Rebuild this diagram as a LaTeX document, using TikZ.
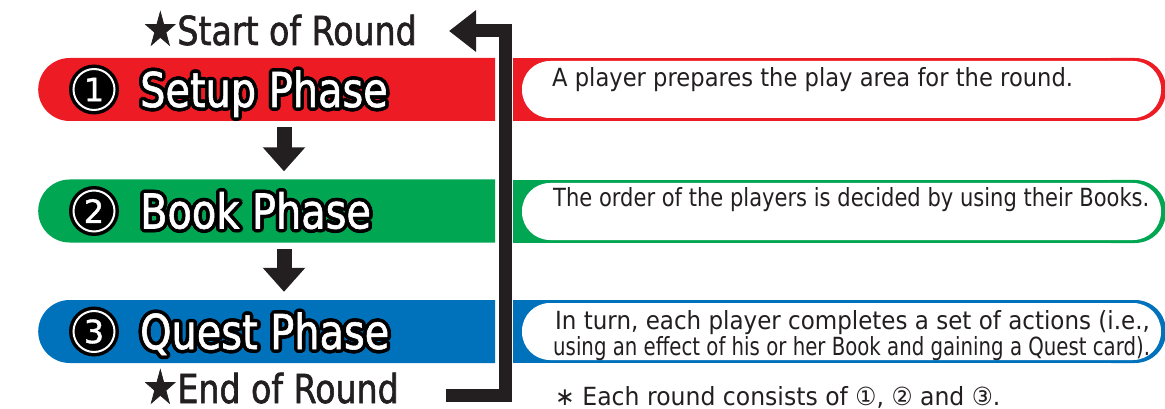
\documentclass[tikz,border=0pt]{standalone}
\usepackage{fontspec}
\setmainfont{DejaVu Sans}
\newfontfamily\descfont[FakeStretch=0.86]{DejaVu Sans}
\newfontfamily\labfont[FakeStretch=0.83,FakeBold=1.5]{DejaVu Sans}
\newfontfamily\titfont[FakeStretch=0.83,FakeBold=1.2]{DejaVu Sans}
\newfontfamily\numfont[FakeBold=1.2]{DejaVu Sans}
\usetikzlibrary{arrows.meta,shapes.misc}
\definecolor{pred}{HTML}{ED1C24}
\definecolor{pgreen}{HTML}{00A651}
\definecolor{pblue}{HTML}{0072BC}
\definecolor{ink}{HTML}{231F20}
\tikzset{
  phasebar/.style={rounded rectangle, rounded rectangle right arc=none, minimum width=457pt, minimum height=63pt, inner sep=0pt, anchor=west, fill=#1},
  titletext/.style={font=\titfont\fontsize{48}{48}\selectfont, inner sep=0pt, anchor=base west},
  numdisc/.style={circle, fill=black, minimum size=50pt, inner sep=0pt},
  desctext/.style={font=\descfont\fontsize{25}{28}\selectfont, inner sep=0pt, anchor=base west, text=ink},
  labtext/.style={font=\labfont\fontsize{40}{40}\selectfont, inner sep=0pt, anchor=base west, text=ink},
  flow/.style={line width=13pt, draw=ink},
  downarrow/.style={line width=15pt, draw=ink, -{Triangle[length=24pt,width=41pt]}, shorten <=6pt, shorten >=8pt},
}
\newcommand\outlinedtitle[3]{% name, position, text
  \foreach \a in {0,24,...,336}{\node[titletext,text=black,shift={(\a:3.6pt)}] (#1o\a) at (#2) {#3};}
  \node[titletext,text=white] (#1) at (#2) {#3};}
\newcommand\descbox[2]{% y-top, colour
  \fill[#2] (513,#1) rectangle (1130,#1+63);
  \fill[#2,rounded corners=31pt] (1080,#1) rectangle (1166,#1+63);
  \fill[white,rounded corners=28pt] (522,#1+3) rectangle (1161,#1+60);}
\begin{document}
\begin{tikzpicture}[x=1pt,y=-1pt]
\useasboundingbox (0,0) rectangle (1165,409);
% left bars
\node[phasebar=pred] (bar1) at (38,89.5) {};
\node[phasebar=pgreen] (bar2) at (38,211) {};
\node[phasebar=pblue] (bar3) at (38,331.5) {};
% right description boxes
\descbox{58}{pred}
\descbox{180}{pgreen}
\descbox{300}{pblue}
% number discs
\foreach \i/\y in {1/89.5,2/211,3/331.5}{
  \node[numdisc] (n\i) at (94,\y) {};
  \draw[white,line width=2pt] (n\i.center) circle[radius=20.5pt];
  \node[inner sep=0pt,text=white,font=\numfont\fontsize{32}{32}\selectfont] (m\i) at (n\i.center) {\i};
}
% titles
\outlinedtitle{t1}{140,107}{Setup Phase}
\outlinedtitle{t2}{140,228.5}{Book Phase}
\outlinedtitle{t3}{140,349}{Quest Phase}
% descriptions
\node[desctext] (d1) at (552,87) {\scalebox{1.053}[1]{A player prepares the play area for the round.}};
\node[desctext] (d2) at (553,207) {\scalebox{0.979}[1]{The order of the players is decided by using their Books.}};
\node[desctext] (d3a) at (555,329) {\scalebox{1.07}[1]{In turn, each player completes a set of actions (i.e.,}};
\node[desctext] (d3b) at (553,355) {\scalebox{0.918}[1]{using an effect of his or her Book and gaining a Quest card).}};
% start / end labels
\node[labtext] (start) at (143,45) {{\fontsize{46}{46}\selectfont ★}Start of Round};
\node[labtext] (end) at (143,403) {{\fontsize{46}{46}\selectfont ★}End of Round};
\node[desctext] (foot) at (555,405) {\scalebox{1.095}[1]{∗ Each round consists of ①, ② and ③.}};
% down arrows
\coordinate (ax) at (284,0);
\draw[downarrow] (bar1.south -| ax) -- (bar2.north -| ax);
\draw[downarrow] (bar2.south -| ax) -- (bar3.north -| ax);
% loop connector
\coordinate (lb) at (446,395);
\coordinate (lc) at (505,395);
\coordinate (ld) at (505,31);
\coordinate (le) at (449,31);
\draw[flow, -{Triangle[length=27pt,width=40pt]}] (lb) -- (lc) -- (ld) -- (le);
\end{tikzpicture}
\end{document}
